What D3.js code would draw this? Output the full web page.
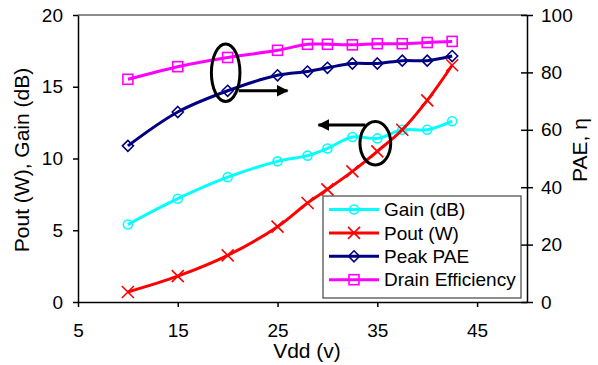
<!DOCTYPE html>
<html>
<head>
<meta charset="utf-8">
<script src="https://cdn.jsdelivr.net/npm/d3@7"></script>
<style>
  body { margin: 0; background: #fff; }
  text { font-family: "Liberation Sans", Arial, sans-serif; fill: #000; }
</style>
</head>
<body>
<div id="chart"></div>
<script>
// data
const vdd = [10, 15, 20, 25, 28, 30, 32.5, 35, 37.5, 40, 42.5];
const gain = [5.4, 7.2, 8.7, 9.8, 10.2, 10.7, 11.5, 11.4, 12.0, 12.0, 12.6];
const pout = [0.7, 1.8, 3.25, 5.25, 6.9, 7.85, 9.1, 10.5, 12.0, 14.05, 16.5];
const peakPae = [54.4, 66.2, 73.6, 79.0, 80.3, 81.6, 83.1, 83.1, 84.1, 84.1, 85.7];
const drainEff = [77.6, 82.0, 85.2, 87.7, 89.8, 89.8, 89.6, 90.0, 90.0, 90.4, 90.8];

const xTicks = [5, 15, 25, 35, 45];
const yLeftTicks = [0, 5, 10, 15, 20];
const yRightTicks = [0, 20, 40, 60, 80, 100];

const W = 598, H = 365;
const margin = { top: 15, right: 71, bottom: 63, left: 78 };
const width = W - margin.left - margin.right;
const height = H - margin.top - margin.bottom;

const svg = d3.select('#chart').append('svg')
  .attr('width', W).attr('height', H);
const g = svg.append('g')
  .attr('transform', 'translate(' + margin.left + ',' + margin.top + ')');

const x = d3.scaleLinear().domain([5, 50]).range([0, width]);
const yL = d3.scaleLinear().domain([0, 20]).range([height, 0]);
const yR = d3.scaleLinear().domain([0, 100]).range([height, 0]);

// top border of plot area
g.append('line')
  .attr('x1', 0).attr('x2', width).attr('y1', 0).attr('y2', 0)
  .attr('stroke', '#666').attr('stroke-width', 1.5);

// axes
const fs = '19px';
const xAxis = g.append('g')
  .attr('transform', 'translate(0,' + height + ')')
  .call(d3.axisBottom(x).tickValues(xTicks).tickSize(5).tickPadding(17).tickSizeOuter(0));
const yAxisL = g.append('g')
  .call(d3.axisLeft(yL).tickValues(yLeftTicks).tickSize(5).tickPadding(10).tickSizeOuter(0));
const yAxisR = g.append('g')
  .attr('transform', 'translate(' + width + ',0)')
  .call(d3.axisRight(yR).tickValues(yRightTicks).tickSize(6).tickPadding(8).tickSizeOuter(0));
yAxisR.selectAll('.tick line').attr('x1', -6);
[xAxis, yAxisL, yAxisR].forEach(a => {
  a.selectAll('path, line').attr('stroke', '#000').attr('stroke-width', 1.5);
  a.selectAll('text').style('font-size', fs).style('font-family', '"Liberation Sans", Arial, sans-serif');
});

// axis titles
svg.append('text')
  .attr('x', 307).attr('y', 358)
  .attr('text-anchor', 'middle')
  .style('font-size', '21px')
  .text('Vdd (v)');
svg.append('text')
  .attr('transform', 'translate(29,160) rotate(-90)')
  .attr('text-anchor', 'middle')
  .style('font-size', '21px')
  .text('Pout (W), Gain (dB)');
svg.append('text')
  .attr('transform', 'translate(587,150) rotate(-90)')
  .attr('text-anchor', 'middle')
  .style('font-size', '21px')
  .text('PAE, η');

// series
const series = [
  { name: 'Gain (dB)', values: gain, y: yL, color: '#00FFFF', marker: 'circle' },
  { name: 'Pout (W)', values: pout, y: yL, color: '#FF0000', marker: 'x' },
  { name: 'Peak PAE', values: peakPae, y: yR, color: '#000080', marker: 'diamond' },
  { name: 'Drain Efficiency', values: drainEff, y: yR, color: '#FF00FF', marker: 'square' }
];

function drawMarker(sel, type, color) {
  if (type === 'circle') {
    sel.append('circle').attr('r', 4.5);
  } else if (type === 'square') {
    sel.append('rect').attr('x', -5).attr('y', -5).attr('width', 10).attr('height', 10);
  } else if (type === 'diamond') {
    sel.append('path').attr('d', 'M0,-5.5L5.5,0L0,5.5L-5.5,0Z');
  } else {
    sel.append('path').attr('d', 'M-6,-6L6,6M-6,6L6,-6');
  }
  sel.selectAll('*').attr('fill', 'none').attr('stroke', color).attr('stroke-width', 1.6);
}

series.forEach(s => {
  const pts = vdd.map((v, i) => [v, s.values[i]]);
  const line = d3.line()
    .x(d => x(d[0]))
    .y(d => s.y(d[1]))
    .curve(d3.curveCatmullRom.alpha(0.5));
  g.append('path')
    .datum(pts)
    .attr('d', line)
    .attr('fill', 'none')
    .attr('stroke', s.color)
    .attr('stroke-width', 3);
  g.selectAll(null)
    .data(pts)
    .enter()
    .append('g')
    .attr('transform', d => 'translate(' + x(d[0]) + ',' + s.y(d[1]) + ')')
    .each(function () { drawMarker(d3.select(this), s.marker, s.color); });
});

// annotations: ellipses and arrows pointing to each axis
const ellipses = [
  { cx: 19.8, cy: 79.9, rx: 1.43, ry: 10, axis: yR },
  { cx: 34.8, cy: 11.06, rx: 1.54, ry: 1.51, axis: yL }
];
ellipses.forEach(e => {
  g.append('ellipse')
    .attr('cx', x(e.cx))
    .attr('cy', e.axis(e.cy))
    .attr('rx', x(e.cx + e.rx) - x(e.cx))
    .attr('ry', e.axis(e.cy) - e.axis(e.cy + e.ry))
    .attr('fill', 'none').attr('stroke', '#000').attr('stroke-width', 3);
});

svg.append('defs').append('marker')
  .attr('id', 'ah')
  .attr('viewBox', '0 0 12 12')
  .attr('refX', 11).attr('refY', 6)
  .attr('markerWidth', 12).attr('markerHeight', 12)
  .attr('markerUnits', 'userSpaceOnUse')
  .attr('orient', 'auto')
  .append('path').attr('d', 'M0,0L12,6L0,12Z').attr('fill', '#000');

const arrows = [
  { x1: 21.1, x2: 26.0, y: 73.6, axis: yR },
  { x1: 33.8, x2: 29.1, y: 12.33, axis: yL }
];
arrows.forEach(a => {
  g.append('line')
    .attr('x1', x(a.x1)).attr('x2', x(a.x2))
    .attr('y1', a.axis(a.y)).attr('y2', a.axis(a.y))
    .attr('stroke', '#000').attr('stroke-width', 3)
    .attr('marker-end', 'url(#ah)');
});

// legend
const legend = svg.append('g').attr('transform', 'translate(323,196)');
legend.append('rect')
  .attr('width', 198).attr('height', 102)
  .attr('fill', '#fff').attr('stroke', '#444').attr('stroke-width', 1.2);
series.forEach((s, i) => {
  const row = legend.append('g').attr('transform', 'translate(0,' + (13.5 + i * 23.4) + ')');
  row.append('line')
    .attr('x1', 6).attr('x2', 56)
    .attr('stroke', s.color).attr('stroke-width', 3);
  const m = row.append('g').attr('transform', 'translate(31,0)');
  drawMarker(m, s.marker, s.color);
  row.append('text')
    .attr('x', 61).attr('dy', '0.35em')
    .style('font-size', fs)
    .text(s.name);
});
</script>
</body>
</html>
